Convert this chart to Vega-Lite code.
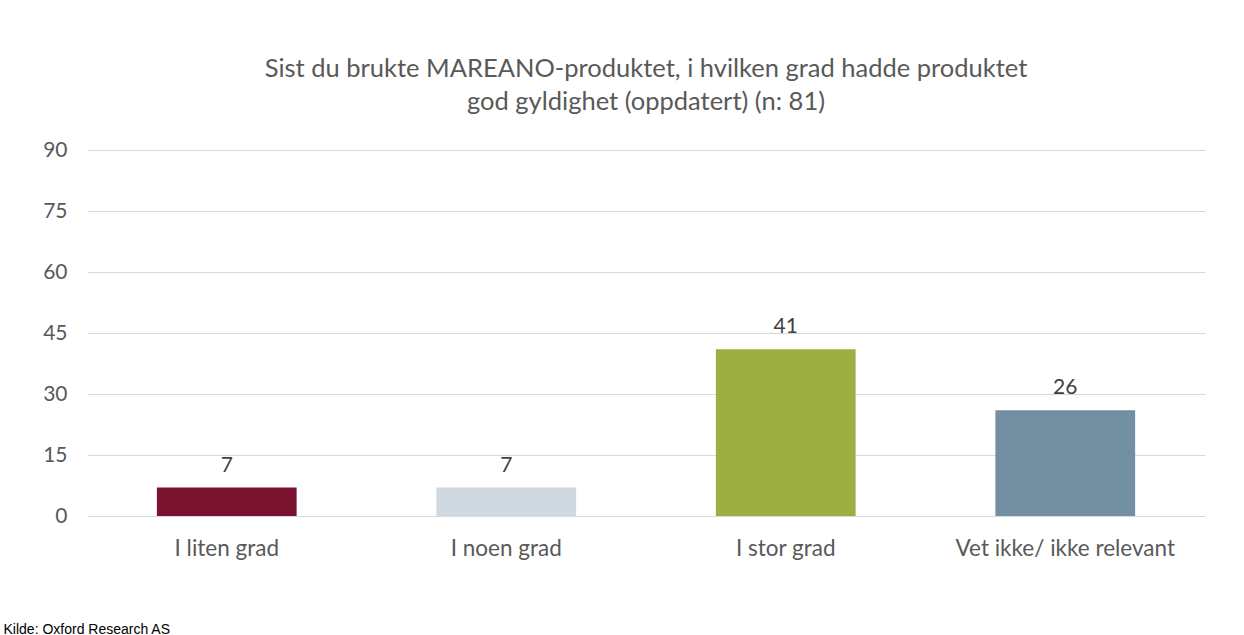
{
  "$schema": "https://vega.github.io/schema/vega-lite/v6.json",
  "autosize": {"type": "none"},
  "padding": {"left": 87, "top": 150, "right": 39, "bottom": 119},
  "width": 1118,
  "height": 366,
  "background": "white",
  "config": {"view": {"stroke": null}, "font": "Lato"},
  "title": {
    "text": ["Sist du brukte MAREANO-produktet, i hvilken grad hadde produktet", "god gyldighet (oppdatert) (n: 81)"],
    "fontSize": 25.5,
    "font": "Lato",
    "fontWeight": "normal",
    "color": "#595959",
    "anchor": "middle",
    "offset": 24,
    "lineHeight": 33
  },
  "data": {
    "values": [
      {"kategori": "I liten grad", "antall": 7},
      {"kategori": "I noen grad", "antall": 7},
      {"kategori": "I stor grad", "antall": 41},
      {"kategori": "Vet ikke/ ikke relevant", "antall": 26}
    ]
  },
  "encoding": {
    "x": {
      "field": "kategori",
      "type": "nominal",
      "sort": null,
      "scale": {"paddingInner": 0.5, "paddingOuter": 0.25},
      "axis": {
        "title": "Kilde: Oxford Research AS",
        "titleFont": "Liberation Sans",
        "titleFontSize": 14,
        "titleFontWeight": "normal",
        "titleColor": "#000000",
        "titleX": -84,
        "titleY": 117,
        "titleAlign": "left",
        "titleBaseline": "alphabetic",
        "labelAngle": 0,
        "labelFontSize": 22.5,
        "labelColor": "#595959",
        "labelPadding": 21,
        "labelLimit": 0,
        "ticks": false,
        "domain": false
      }
    },
    "y": {
      "field": "antall",
      "type": "quantitative",
      "scale": {"domain": [0, 90]},
      "axis": {
        "title": null,
        "values": [0, 15, 30, 45, 60, 75, 90],
        "labelFontSize": 21,
        "labelColor": "#595959",
        "labelPadding": 20,
        "ticks": false,
        "domain": false,
        "gridColor": "#d9d9d9",
        "gridWidth": 1
      }
    }
  },
  "layer": [
    {
      "mark": {"type": "bar"},
      "encoding": {
        "color": {
          "field": "kategori",
          "type": "nominal",
          "sort": null,
          "scale": {"range": ["#7A1230", "#D1D9E0", "#9DAF42", "#7290A1"]},
          "legend": null
        }
      }
    },
    {
      "mark": {"type": "text", "baseline": "alphabetic", "dy": -16, "fontSize": 21, "color": "#404040", "font": "Lato"},
      "encoding": {"text": {"field": "antall", "type": "quantitative"}}
    }
  ]
}
